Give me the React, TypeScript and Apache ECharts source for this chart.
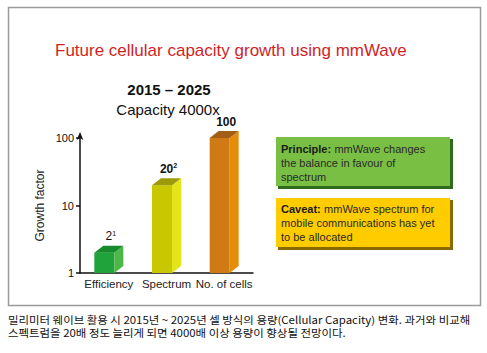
import React, { useEffect, useRef } from "react";
import * as echarts from "echarts";

const categories = ["Efficiency", "Spectrum", "No. of cells"];
const growthValues = [2, 20, 100];
const labelBases = ["2", "20", "100"];
const labelExponents = ["1", "2", ""];
const yTicks = [1, 10, 100];

const titleText = "Future cellular capacity growth using mmWave";
const periodText = "2015 – 2025";
const capacityText = "Capacity 4000x";
const principleLines = ["mmWave changes", "the balance in favour of", "spectrum"];
const caveatLines = ["mmWave spectrum for", "mobile communications has yet", "to be allocated"];
const captionLines = [
  "밀리미터 웨이브 활용 시 2015년 ~ 2025년 셀 방식의 용량(Cellular Capacity) 변화. 과거와 비교해",
  "스펙트럼을 20배 정도 늘리게 되면 4000배 이상 용량이 향상될 전망이다.",
];

const faceColors = [
  { front: "#1fa33a", side: "#4db848", top: "#178a2c" },
  { front: "#c9c700", side: "#e4e41a", top: "#9c9a08" },
  { front: "#cf7a14", side: "#e58c0a", top: "#a35e16" },
];

export default function App() {
  const ref = useRef<HTMLDivElement>(null);
  useEffect(() => {
    if (!ref.current) return;
    const chart = echarts.init(ref.current, undefined, { renderer: "svg" });
    const W = 20;
    const DX = 9;
    const DY = 7;
    const font = "Liberation Sans, Arial, sans-serif";
    const boxRich = {
      h: { fontSize: 11, fontWeight: "bold", fill: "#1a1a1a", fontFamily: font, lineHeight: 14 },
      t: { fontSize: 11, fill: "#2a2a2a", fontFamily: font, lineHeight: 14 },
    };
    chart.setOption({
      animation: false,
      backgroundColor: "#ffffff",
      grid: { left: 80, top: 138, width: 173, bottom: 80 },
      xAxis: {
        type: "category",
        data: categories,
        axisLine: { lineStyle: { color: "#111", width: 1.5 } },
        axisTick: { show: false },
        axisLabel: { interval: 0, color: "#222", fontSize: 11.5, fontFamily: font, margin: 5, fontWeight: 500 },
      },
      yAxis: {
        type: "log",
        logBase: 10,
        min: yTicks[0],
        max: yTicks[yTicks.length - 1],
        name: "Growth factor",
        nameLocation: "middle",
        nameGap: 34,
        nameRotate: 90,
        nameTextStyle: { color: "#222", fontSize: 12, fontFamily: font },
        splitLine: { show: false },
        axisLine: {
          show: true,
          lineStyle: { color: "#111", width: 1.5 },
          symbol: ["none", "arrow"],
          symbolSize: [5, 8],
          symbolOffset: [0, 6],
        },
        axisTick: { show: true, length: 4, lineStyle: { color: "#111", width: 1.5 } },
        axisLabel: { color: "#111", fontSize: 11, fontFamily: font, margin: 6, fontWeight: 500 },
      },
      series: [
        {
          type: "custom",
          data: growthValues.map((v, i) => [i, v]),
          renderItem: (params: any, api: any) => {
            const idx = api.value(0);
            const val = api.value(1);
            const top = api.coord([idx, val]);
            const base = api.coord([idx, 1]);
            const c = faceColors[params.dataIndex];
            const fl = top[0] - (W + DX) / 2;
            const yT = top[1];
            const yB = base[1];
            const bold = params.dataIndex > 0;
            const exp = labelExponents[params.dataIndex];
            return {
              type: "group",
              children: [
                {
                  type: "polygon",
                  shape: { points: [[fl, yT], [fl + W, yT], [fl + W, yB], [fl, yB]] },
                  style: { fill: c.front },
                },
                {
                  type: "polygon",
                  shape: { points: [[fl + W, yT], [fl + W + DX, yT - DY], [fl + W + DX, yB - DY], [fl + W, yB]] },
                  style: { fill: c.side },
                },
                {
                  type: "polygon",
                  shape: { points: [[fl, yT], [fl + DX, yT - DY], [fl + W + DX, yT - DY], [fl + W, yT]] },
                  style: { fill: c.top },
                },
                {
                  type: "text",
                  x: fl + (W + DX) / 2 + 2,
                  y: yT - DY - 3,
                  style: {
                    text: exp ? `{b|${labelBases[params.dataIndex]}}{s|${exp}}` : `{b|${labelBases[params.dataIndex]}}`,
                    align: "center",
                    verticalAlign: "bottom",
                    rich: {
                      b: { fontSize: 12, fontWeight: bold ? "bold" : "normal", fill: "#111", fontFamily: font },
                      s: { fontSize: 7, fontWeight: bold ? "bold" : "normal", fill: "#111", fontFamily: font, verticalAlign: "top", padding: [0, 0, 6, 0] },
                    },
                  },
                },
              ],
            };
          },
        },
      ],
      graphic: [
        {
          type: "rect",
          shape: { x: 8.5, y: 7.5, width: 472, height: 298 },
          style: { fill: "none", stroke: "#9a9a9a", lineWidth: 1.5 },
          silent: true,
        },
        {
          type: "text",
          x: 55,
          y: 50,
          style: { text: titleText, fill: "#d11f1f", fontSize: 17, fontFamily: font, verticalAlign: "middle" },
        },
        {
          type: "text",
          x: 169,
          y: 89,
          style: { text: periodText, fill: "#111", fontSize: 15, fontWeight: "bold", fontFamily: font, align: "center", verticalAlign: "middle" },
        },
        {
          type: "text",
          x: 168,
          y: 109,
          style: { text: capacityText, fill: "#111", fontSize: 15, fontFamily: font, align: "center", verticalAlign: "middle" },
        },
        {
          type: "rect",
          shape: { x: 278, y: 139, width: 175, height: 50 },
          style: { fill: "#2f6b1c" },
        },
        {
          type: "rect",
          shape: { x: 276, y: 137, width: 174, height: 49 },
          style: { fill: "#79bf44" },
        },
        {
          type: "text",
          x: 281,
          y: 142,
          style: {
            text: `{h|Principle:} {t|${principleLines[0]}}\n{t|${principleLines[1]}}\n{t|${principleLines[2]}}`,
            verticalAlign: "top",
            lineHeight: 14,
            rich: boxRich,
          },
        },
        {
          type: "rect",
          shape: { x: 278, y: 200, width: 175, height: 50 },
          style: { fill: "#8a6a00" },
        },
        {
          type: "rect",
          shape: { x: 276, y: 198, width: 174, height: 49 },
          style: { fill: "#ffcc00" },
        },
        {
          type: "text",
          x: 281,
          y: 202,
          style: {
            text: `{h|Caveat:} {t|${caveatLines[0]}}\n{t|${caveatLines[1]}}\n{t|${caveatLines[2]}}`,
            verticalAlign: "top",
            lineHeight: 14,
            rich: boxRich,
          },
        },
        {
          type: "text",
          x: 8,
          y: 319,
          scaleX: 1.09,
          style: {
            text: captionLines[0],
            fill: "#111",
            fontSize: 10.5,
            fontFamily: "'Noto Sans CJK KR', sans-serif",
            verticalAlign: "middle",
          },
        },
        {
          type: "text",
          x: 8,
          y: 332.5,
          scaleX: 1.09,
          style: {
            text: captionLines[1],
            fill: "#111",
            fontSize: 10.5,
            fontFamily: "'Noto Sans CJK KR', sans-serif",
            verticalAlign: "middle",
          },
        },
      ],
    });
    return () => chart.dispose();
  }, []);
  return (
    <div
      ref={ref}
      style={{ position: "fixed", left: 0, top: 0, width: 487, height: 353 }}
    />
  );
}
